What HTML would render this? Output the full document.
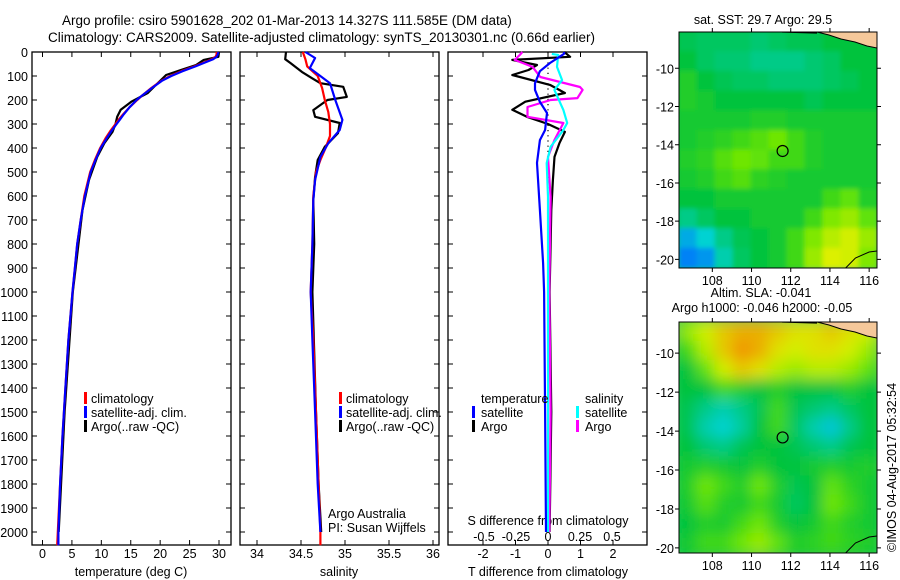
<!DOCTYPE html>
<html><head><meta charset="utf-8"><style>
html,body{margin:0;padding:0;background:#fff;}
svg{display:block;font-family:"Liberation Sans",sans-serif;}
text{fill:#000;}
</style></head><body>
<svg id="fig" width="900" height="580" viewBox="0 0 900 580" xmlns="http://www.w3.org/2000/svg">
<defs>
<filter id="blurS" x="0" y="0" width="1" height="1"><feGaussianBlur stdDeviation="2.5"/></filter>
<filter id="blurL" x="0" y="0" width="1" height="1"><feGaussianBlur stdDeviation="7"/></filter>
<clipPath id="clipSST"><rect x="679" y="32" width="198" height="236"/></clipPath>
<clipPath id="clipSLA"><rect x="679" y="322" width="198" height="231"/></clipPath>
</defs>
<text x="62" y="25" font-size="13.5">Argo profile: csiro 5901628_202 01-Mar-2013 14.327S 111.585E (DM data)</text>
<text x="48" y="42" font-size="13.5">Climatology: CARS2009. Satellite-adjusted climatology: synTS_20130301.nc (0.66d earlier)</text>
<g id="g1"></g>
<g id="g2"></g>
<g id="g3"></g>
<g id="g4"></g>
<g id="g5"></g>
<text transform="translate(896,552) rotate(-90)" font-size="12.5">©IMOS 04-Aug-2017 05:32:54</text>
</svg>
<script>
// ---- data ----
const depthTicks = [0,100,200,300,400,500,600,700,800,900,1000,1100,1200,1300,1400,1500,1600,1700,1800,1900,2000];
const tempTicks = [0,5,10,15,20,25,30];
const salTicks = [34,34.5,35,35.5,36];
const salTickLabels = ["34","34.5","35","35.5","36"];
const tdiffTicks = [-2,-1,0,1,2];
const sdiffTicks = [-0.5,-0.25,0,0.25,0.5];
const sdiffTickLabels = ["-0.5","-0.25","0","0.25","0.5"];

const tClimDepth = [0,10,20,30,40,50,60,80,100,120,150,180,200,230,260,280,300,330,360,400,450,500,600,700,800,900,1000,1200,1400,1600,1800,2000,2055];
const tClim = [29.6,29.6,29.4,28.8,27.8,26.8,25.8,23.6,21.7,20.2,18.5,17.0,16.1,14.8,13.7,13.0,12.4,11.5,10.7,9.8,8.9,8.1,7.1,6.5,5.9,5.5,5.1,4.4,3.9,3.4,3.0,2.6,2.5];
const tSat = [29.9,29.8,29.6,29.0,28.0,27.0,26.0,23.8,21.9,20.3,18.6,17.0,16.0,14.8,13.8,13.2,12.6,11.7,10.9,9.9,9.0,8.2,7.2,6.5,5.9,5.5,5.1,4.4,3.9,3.4,3.0,2.7,2.7];
const tArgoDepth = [0,20,33,54,75,96,137,171,207,241,270,300,333,380,437,533,658,1000,1500,2000];
const tArgo = [30.0,29.9,27.4,26.1,23.5,21.0,19.3,17.9,15.1,13.3,12.7,12.4,11.9,10.5,9.3,7.9,6.8,5.15,3.75,2.75];

const sClimDepth = [0,30,60,100,150,200,250,300,350,400,450,500,600,800,1000,1200,1500,1800,2000,2055];
const sClim = [34.52,34.55,34.57,34.69,34.74,34.77,34.81,34.83,34.83,34.78,34.72,34.67,34.64,34.63,34.61,34.64,34.67,34.70,34.72,34.72];
const sSatDepth = [0,25,67,130,200,283,325,380,437,533,617,800,1000,1200,1500,1800,2000];
const sSat = [34.55,34.66,34.60,34.83,34.89,34.97,34.94,34.81,34.72,34.66,34.64,34.63,34.61,34.63,34.66,34.69,34.72];
const sArgoDepth = [0,30,46,83,110,130,145,187,200,221,242,270,296,338,395,450,520,617,800,1000,1500,1800,2000];
const sArgo = [34.33,34.32,34.38,34.51,34.63,34.72,34.98,35.02,34.80,34.72,34.64,34.66,34.94,34.92,34.77,34.69,34.66,34.64,34.65,34.63,34.67,34.70,34.73];

const dTSatDepth = [0,8,46,80,130,158,208,254,325,367,462,658,880,1000,1500,2000];
const dTSat = [0.5,0.49,0.06,-0.25,-0.4,-0.4,-0.25,-0.03,-0.09,-0.25,-0.34,-0.25,-0.15,-0.12,-0.09,-0.06];
const dTArgoDepth = [0,20,33,54,75,96,137,171,207,241,270,300,333,380,437,533,658,1000,1500,2000];
const dTArgo = [0.5,0.68,-1.1,-0.34,-0.6,-1.1,0.06,0.52,-0.7,-1.1,-0.65,0.0,0.52,0.35,0.2,0.15,0.1,0.05,0.1,0.05];
const dSSatDepth = [8,12,62,117,158,242,296,325,395,463,604,1000,1500,2000];
const dSSat = [0.03,0.08,0.07,0.11,0.05,0.12,0.15,0.12,0.02,-0.01,0,0,0,0];
const dSArgoDepth = [0,12,33,62,104,146,158,192,200,229,270,296,367,437,604,1000,1500,2000];
const dSArgo = [-0.2,-0.22,-0.26,-0.12,-0.06,0.25,0.27,0.23,0.02,-0.16,-0.16,0.12,0.05,0,0.02,0.01,0.02,0.01];

const mapLonTicks = [108,110,112,114,116];
const mapLatTicks = [-10,-12,-14,-16,-18,-20];
const argoLon = 111.585, argoLat = -14.327;
const sstGrid = [
[.42,.40,.40,.40,.38,.40,.42,.42,.45,.45,.45],
[.45,.40,.38,.38,.35,.35,.35,.38,.40,.45,.45],
[.50,.45,.42,.40,.40,.38,.38,.38,.40,.42,.45],
[.50,.48,.45,.45,.45,.45,.45,.42,.45,.45,.45],
[.48,.48,.48,.48,.50,.50,.48,.48,.48,.48,.48],
[.48,.50,.52,.55,.58,.62,.55,.50,.48,.48,.48],
[.50,.52,.58,.62,.60,.55,.55,.50,.48,.48,.48],
[.48,.50,.55,.58,.52,.50,.48,.48,.48,.48,.48],
[.45,.45,.48,.48,.48,.48,.48,.48,.55,.60,.50],
[.35,.40,.45,.45,.48,.48,.48,.55,.65,.70,.60],
[.15,.25,.35,.42,.45,.48,.55,.65,.75,.80,.70],
[.05,.10,.30,.40,.45,.48,.55,.70,.82,.80,.65]];
const slaGrid = [
[.70,.80,.90,.95,.95,.90,.85,.85,.90,.85,.80],
[.55,.75,.90,1.0,.95,.85,.80,.85,.85,.80,.70],
[.45,.60,.80,.90,.85,.75,.70,.75,.75,.70,.60],
[.45,.45,.55,.50,.45,.50,.45,.45,.45,.50,.45],
[.42,.35,.30,.35,.42,.55,.42,.38,.35,.40,.45],
[.42,.30,.25,.32,.45,.55,.40,.30,.22,.35,.45],
[.45,.38,.35,.42,.45,.45,.42,.38,.35,.42,.45],
[.48,.50,.48,.45,.50,.45,.45,.48,.50,.48,.50],
[.50,.62,.55,.50,.62,.50,.42,.45,.60,.52,.48],
[.48,.58,.50,.48,.55,.48,.40,.45,.62,.55,.48],
[.45,.50,.48,.55,.62,.50,.45,.48,.55,.50,.48],
[.48,.55,.55,.62,.70,.60,.50,.52,.55,.52,.50]];

// ---- helpers ----
const NS="http://www.w3.org/2000/svg";
function mk(parent,tag,attrs){const e=document.createElementNS(NS,tag);for(const k in attrs)e.setAttribute(k,attrs[k]);parent.appendChild(e);return e;}
const TOP=52, BOT=545;
const yD = d => TOP + d*0.24;
function linScale(v0,p0,v1,p1){return v=>p0+(v-v0)*(p1-p0)/(v1-v0);}
const xT = linScale(0,42.5,30,219);
const xS = linScale(34,257,36,433);
const xTd = linScale(0,548,1,580.5);
const xSd = linScale(0,548,1,676);

function panel(g,x0,x1,name){
  const r=mk(g,'rect',{x:x0,y:TOP,width:x1-x0,height:BOT-TOP,fill:'none',stroke:'#000','stroke-width':1.3});
  
  
  depthTicks.forEach(d=>{
    const t=mk(g,'path',{d:`M${x0},${yD(d)}h5M${x1},${yD(d)}h-5`,stroke:'#000','stroke-width':1});
    
    
  });
}
function xticks(g,vals,labels,sc,ly,name){
  vals.forEach((v,i)=>{
    const t=mk(g,'path',{d:`M${sc(v)},${TOP}v5M${sc(v)},${BOT}v-5`,stroke:'#000','stroke-width':1});
    
    
    if(labels){
      const tx=mk(g,'text',{x:sc(v),y:ly,'font-size':12.5,'text-anchor':'middle'});
      tx.textContent=labels[i];
      
      
    }
  });
}
function line(g,xs,ds,sc,col,name){
  const pts=xs.map((v,i)=>sc(v).toFixed(1)+','+yD(ds[i]).toFixed(1)).join(' ');
  const p=mk(g,'polyline',{points:pts,fill:'none',stroke:col,'stroke-width':2.2,'stroke-linejoin':'round'});
  
  
}
function txt(g,x,y,s,name,size,anchor){
  const t=mk(g,'text',{x:x,y:y,'font-size':size||12.5,'text-anchor':anchor||'start'});
  t.textContent=s;
  
  
  return t;
}
function mark(g,x,y,col,name){
  const m=mk(g,'rect',{x:x,y:y-11,width:3,height:12,fill:col});
  
  
}

// ---- panel 1 ----
const g1=document.getElementById('g1');
panel(g1,32,231,'temperature-panel');
depthTicks.forEach(d=>txt(g1,28,yD(d)+5,String(d),'depth-tick-label',12.5,'end'));
xticks(g1,tempTicks,tempTicks.map(String),xT,558,'temperature');
txt(g1,131,576,'temperature (deg C)','x-axis-title-temperature',12.5,'middle');
line(g1,tArgo,tArgoDepth,xT,'#000','argo-temperature-line');
line(g1,tClim,tClimDepth,xT,'#f00','climatology-temperature-line');
line(g1,tSat,tClimDepth.slice(0,tSat.length),xT,'#00f','satellite-temperature-line');
[['#f00','climatology'],['#00f','satellite-adj. clim.'],['#000','Argo(..raw -QC)']].forEach((e,i)=>{
  mark(g1,84,403+i*14,e[0],'legend-marker');
  txt(g1,91,403+i*14,e[1],'legend-entry');
});

// ---- panel 2 ----
const g2=document.getElementById('g2');
panel(g2,240,439,'salinity-panel');
xticks(g2,salTicks,salTickLabels,xS,558,'salinity');
txt(g2,339,576,'salinity','x-axis-title-salinity',12.5,'middle');
line(g2,sArgo,sArgoDepth,xS,'#000','argo-salinity-line');
line(g2,sClim,sClimDepth,xS,'#f00','climatology-salinity-line');
line(g2,sSat,sSatDepth,xS,'#00f','satellite-salinity-line');
[['#f00','climatology'],['#00f','satellite-adj. clim.'],['#000','Argo(..raw -QC)']].forEach((e,i)=>{
  mark(g2,339,403+i*14,e[0],'legend-marker');
  txt(g2,346,403+i*14,e[1],'legend-entry');
});
txt(g2,328,518,'Argo Australia','pi-institution');
txt(g2,328,532,'PI: Susan Wijffels','pi-name');

// ---- panel 3 ----
const g3=document.getElementById('g3');
panel(g3,448,647,'difference-panel');
xticks(g3,tdiffTicks,tdiffTicks.map(String),xTd,558,'t-difference');
sdiffTicks.forEach((v,i)=>txt(g3,xSd(v),541,sdiffTickLabels[i],'s-difference-tick-label',12.5,'middle'));
txt(g3,548,525,'S difference from climatology','s-difference-axis-title',12.5,'middle');
txt(g3,548,576,'T difference from climatology','x-axis-title-t-difference',12.5,'middle');
const zl=mk(g3,'line',{x1:548,y1:TOP,x2:548,y2:230,stroke:'#000','stroke-width':1.2,'stroke-dasharray':'1.2,4'});


line(g3,dTArgo,dTArgoDepth,xTd,'#000','argo-t-difference-line');
line(g3,dSArgo,dSArgoDepth,xSd,'#f0f','argo-s-difference-line');
line(g3,dSSat,dSSatDepth,xSd,'#0ff','satellite-s-difference-line');
line(g3,dTSat,dTSatDepth,xTd,'#00f','satellite-t-difference-line');
txt(g3,481,403,'temperature','legend-title-temperature');
txt(g3,585,403,'salinity','legend-title-salinity');
mark(g3,472,417,'#00f','legend-marker');txt(g3,481,417,'satellite','legend-entry');
mark(g3,472,431,'#000','legend-marker');txt(g3,481,431,'Argo','legend-entry');
mark(g3,576,417,'#0ff','legend-marker');txt(g3,585,417,'satellite','legend-entry');
mark(g3,576,431,'#f0f','legend-marker');txt(g3,585,431,'Argo','legend-entry');

// ---- maps ----
const stops=[[0,[0,110,255]],[0.25,[0,210,210]],[0.45,[0,195,60]],[0.62,[110,230,0]],[0.82,[220,240,0]],[1,[240,150,0]]];
function cmap(v){
  for(let i=1;i<stops.length;i++){if(v<=stops[i][0]){const a=stops[i-1],b=stops[i];const f=(v-a[0])/(b[0]-a[0]);
    return 'rgb('+a[1].map((c,k)=>Math.round(c+(b[1][k]-c)*f)).join(',')+')';}}
  return 'rgb(240,150,0)';
}
function drawMap(gid,grid,x0,y0,w,h,latTop,latBot,title1,title2,blur,clip,name){
  const g=document.getElementById(gid);
  const lonL=106.3, lonR=116.4;
  const xm=linScale(lonL,x0,lonR,x0+w), ym=linScale(latTop,y0,latBot,y0+h);
  const cg=mk(g,'g',{'clip-path':'url(#'+clip+')'});
  
  
  const fg=mk(cg,'g',{filter:'url(#'+blur+')'});
  const rows=grid.length, cols=grid[0].length, cw=w/cols, ch=h/rows;
  mk(fg,'rect',{x:x0-10,y:y0-10,width:w+20,height:h+20,fill:cmap(0.45)});
  grid.forEach((row,r)=>row.forEach((v,c)=>{
    const cell=mk(fg,'rect',{x:x0+c*cw-0.5,y:y0+r*ch-0.5,width:cw+1,height:ch+1,fill:cmap(v)});
    
    
  }));
  const land=mk(cg,'path',{d:`M${x0+w-60},${y0} L${x0+w},${y0} L${x0+w},${y0+16} L${x0+w-10},${y0+14} L${x0+w-22},${y0+10} L${x0+w-36},${y0+7} L${x0+w-48},${y0+3} Z`,fill:'#f5c89a',stroke:'#000','stroke-width':1});
  
  
  const coast=mk(cg,'path',{d:`M${x0+w-95},${y0} L${x0+w-60},${y0+1}`,stroke:'#000','stroke-width':1.2,fill:'none'});
  
  
  const coast2=mk(cg,'path',{d:`M${xm(114.8)},${y0+h} L${xm(115.3)},${y0+h-10} L${xm(116.0)},${y0+h-16} L${x0+w},${y0+h-17}`,stroke:'#000','stroke-width':1,fill:'none'});
  
  
  const circ=mk(g,'circle',{cx:xm(argoLon),cy:ym(argoLat),r:5.5,fill:'none',stroke:'#000','stroke-width':1.2});
  
  
  const fr=mk(g,'rect',{x:x0,y:y0,width:w,height:h,fill:'none',stroke:'#000','stroke-width':1});
  
  
  mapLatTicks.forEach(l=>{
    const t=mk(g,'path',{d:`M${x0},${ym(l)}h-4M${x0+w},${ym(l)}h4`,stroke:'#000'});
    
    
    txt(g,x0-5,ym(l)+5,String(l),'lat-tick-label',12.5,'end');
  });
  mapLonTicks.forEach(l=>{
    const t=mk(g,'path',{d:`M${xm(l)},${y0}v-4M${xm(l)},${y0+h}v4`,stroke:'#000'});
    
    
    txt(g,xm(l),y0+h+17,String(l),'lon-tick-label',12.5,'middle');
  });
  if(title2){txt(g,x0+w/2-17,y0-25,title1,name+'-title',12.5,'middle');txt(g,x0+w/2-16,y0-10,title2,name+'-subtitle',12.5,'middle');}
  else txt(g,x0+w/2-15,y0-8,title1,name+'-title',12.5,'middle');
}
drawMap('g4',sstGrid,679,32,198,236,-8.1,-20.45,'sat. SST: 29.7 Argo: 29.5',null,'blurS','clipSST','sst-map');
drawMap('g5',slaGrid,679,322,198,231,-8.4,-20.26,'Altim. SLA: -0.041','Argo h1000: -0.046 h2000: -0.05','blurL','clipSLA','sla-map');
</script>
</body></html>
